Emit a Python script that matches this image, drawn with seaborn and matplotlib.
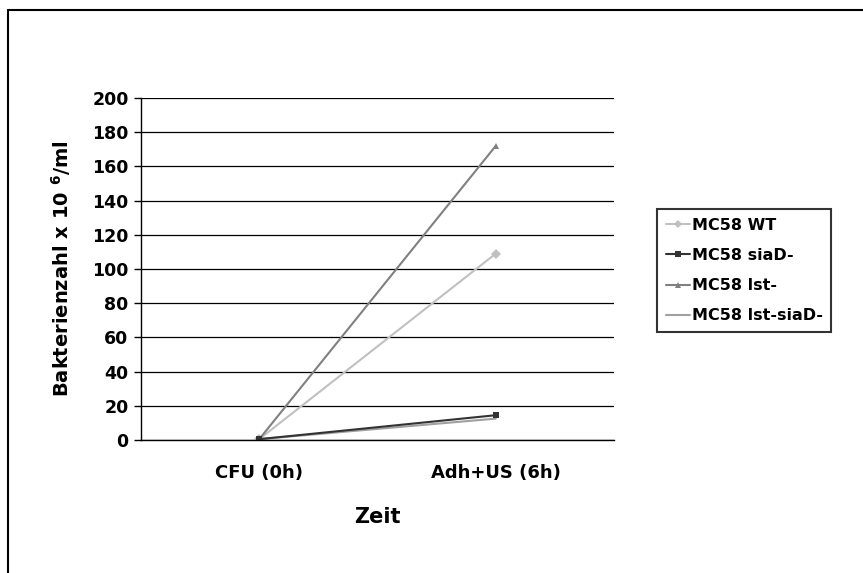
import matplotlib
matplotlib.use("Agg")
import matplotlib.pyplot as plt
from matplotlib.lines import Line2D
import seaborn as sns
import pandas as pd

categories = ["CFU (0h)", "Adh+US (6h)"]
series_names = ["MC58 WT", "MC58 siaD-", "MC58 lst-", "MC58 lst-siaD-"]
wt = [0.5, 109]
siad = [0.5, 14.5]
lst = [0.5, 172]
lst_siad = [0.5, 12.5]
yticks = [0, 20, 40, 60, 80, 100, 120, 140, 160, 180, 200]

rows = []
for name, vals in zip(series_names, [wt, siad, lst, lst_siad]):
    for c, v in zip(categories, vals):
        rows.append({"Zeit": c, "Wert": v, "Serie": name})
df = pd.DataFrame(rows)

sns.set_theme(style="white")
plt.rcParams["font.family"] = ["DejaVu Sans"]
plt.rcParams["font.weight"] = "bold"
plt.rcParams["mathtext.fontset"] = "dejavusans"
plt.rcParams["mathtext.default"] = "bf"
plt.rcParams["text.color"] = "black"
plt.rcParams["axes.labelcolor"] = "black"
plt.rcParams["xtick.color"] = "black"
plt.rcParams["ytick.color"] = "black"
plt.rcParams["xtick.labelcolor"] = "black"
plt.rcParams["ytick.labelcolor"] = "black"

fig = plt.figure(figsize=(8.63, 5.73), dpi=100)
ax = fig.add_axes([141/863, 1-440/573, (614-141)/863, (440-98)/573])

palette = {"MC58 WT": "#C0C0C0", "MC58 siaD-": "#333333",
           "MC58 lst-": "#808080", "MC58 lst-siaD-": "#A0A0A0"}
markers = {"MC58 WT": "D", "MC58 siaD-": "s", "MC58 lst-": "^", "MC58 lst-siaD-": None}

for g in yticks:
    ax.axhline(g, color="black", lw=0.9, zorder=0)

order = ["MC58 lst-siaD-", "MC58 WT", "MC58 lst-", "MC58 siaD-"]
for name in order:
    sub = df[df["Serie"] == name]
    sns.lineplot(data=sub, x="Zeit", y="Wert", color=palette[name],
                 marker=markers[name], markersize=5, markeredgewidth=0,
                 linewidth=1.5, ax=ax, legend=False, sort=False)

ax.set_xlim(-0.5, 1.5)
ax.set_ylim(0, 200)
ax.set_yticks(yticks)
ax.set_yticklabels([str(t) for t in yticks], fontsize=12.5, fontweight="bold", color="black")
ax.set_xticks([0, 1])
ax.set_xticklabels(categories, fontsize=13, fontweight="bold", color="black")
ax.tick_params(axis="y", which="major", length=5, width=1, color="black", direction="out", left=True, pad=4)
ax.tick_params(axis="x", length=0, pad=17)
for s in ["top", "right"]:
    ax.spines[s].set_visible(False)
for s in ["left", "bottom"]:
    ax.spines[s].set_color("black")
    ax.spines[s].set_linewidth(1)

ax.set_xlabel("Zeit", fontsize=15, fontweight="bold", labelpad=18, color="black")
ax.set_ylabel(r"Bakterienzahl x 10 $^{6}$/ml", fontsize=14, fontweight="bold", labelpad=14, color="black")

handles = [Line2D([0], [0], color=palette[n], marker=markers[n],
                  markersize=4, lw=1.5, markeredgewidth=0) for n in series_names]
leg = fig.legend(handles, series_names, loc="upper left",
                 bbox_to_anchor=(657/863, 1-209/573), fancybox=False,
                 frameon=True, edgecolor="black",
                 prop={"weight": "bold", "size": 11.5}, handlelength=1.5,
                 borderpad=0.55, labelspacing=0.95, handletextpad=0.12,
                 borderaxespad=0)
leg.get_frame().set_linewidth(1.5)
for t in leg.get_texts():
    t.set_color("black")

fig.add_artist(Line2D([8/863, 8/863], [0, 1-10/573], color="black", lw=1.5, transform=fig.transFigure))
fig.add_artist(Line2D([8/863, 1], [1-10/573, 1-10/573], color="black", lw=1.5, transform=fig.transFigure))

fig.savefig("out.png", dpi=100)
